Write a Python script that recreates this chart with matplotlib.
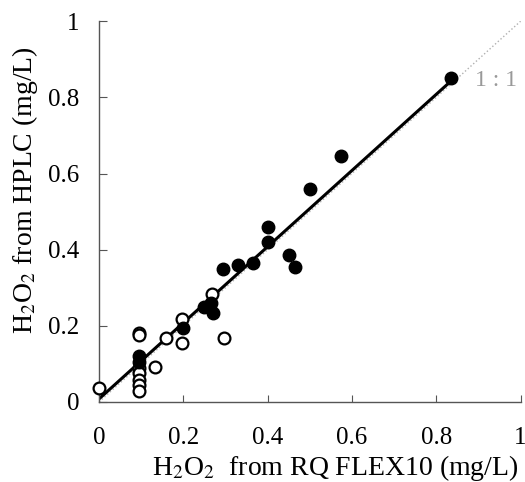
import matplotlib.pyplot as plt

plt.rcParams['font.family'] = 'Liberation Serif'
plt.rcParams['mathtext.fontset'] = 'stix'

# filled symbols
filled_x = [0.095, 0.095, 0.2, 0.25, 0.265, 0.27, 0.295, 0.33, 0.365, 0.4, 0.4, 0.45, 0.465, 0.5, 0.575, 0.835]
filled_y = [0.12, 0.105, 0.195, 0.25, 0.26, 0.235, 0.35, 0.36, 0.365, 0.46, 0.42, 0.385, 0.355, 0.56, 0.645, 0.852]

# open symbols
open_x = [0.0, 0.095, 0.095, 0.095, 0.095, 0.095, 0.095, 0.095, 0.133, 0.16, 0.197, 0.197, 0.268, 0.297]
open_y = [0.037, 0.18, 0.175, 0.09, 0.075, 0.058, 0.045, 0.03, 0.092, 0.168, 0.218, 0.155, 0.283, 0.168]

# regression line
slope = 1.0
intercept = 0.008
fit_range = [0.0, 0.835]

ticks = [0, 0.2, 0.4, 0.6, 0.8, 1]
tick_labels = ['0', '0.2', '0.4', '0.6', '0.8', '1']

fig = plt.figure(figsize=(5.25, 4.82), dpi=100)
ax = fig.add_axes([0.1886, 0.166, 0.803, 0.79])

ax.plot([0, 1], [0, 1], ls=':', color='#b0b0b0', lw=1.0, zorder=1)
ax.plot(fit_range, [intercept + slope * v for v in fit_range], color='black', lw=2.2, zorder=2)

ax.plot(open_x, open_y, 'o', ms=8.5, mfc='white', mec='black', mew=1.6, clip_on=False, zorder=3)
ax.plot(filled_x, filled_y, 'o', ms=9, mfc='black', mec='black', clip_on=False, zorder=4)

ax.text(0.942, 0.845, '1 : 1', color='#999999', fontsize=17, ha='center', va='center')

ax.set_xlim(0, 1)
ax.set_ylim(0, 1)
ax.set_xticks(ticks)
ax.set_yticks(ticks)
ax.set_xticklabels(tick_labels)
ax.set_yticklabels(tick_labels)

for side in ['top', 'right']:
    ax.spines[side].set_visible(False)
for side in ['left', 'bottom']:
    ax.spines[side].set_color('#555555')
    ax.spines[side].set_linewidth(1.0)

ax.tick_params(axis='x', direction='in', length=5, labelsize=18, pad=18, color='#555555')
ax.tick_params(axis='y', direction='in', length=6, labelsize=18, pad=14, color='#555555')

# axis titles placed by hand, like the original
fig.text(335 / 525, 1 - 468 / 482, r'H$_2$O$_2$  from RQ FLEX10 (mg/L)',
         fontsize=20, ha='center', va='center')
fig.text(25 / 525, 1 - 190 / 482, r'H$_2$O$_2$ from HPLC (mg/L)',
         fontsize=20, ha='center', va='center', rotation=90)

fig.savefig('out.png', dpi=100)
